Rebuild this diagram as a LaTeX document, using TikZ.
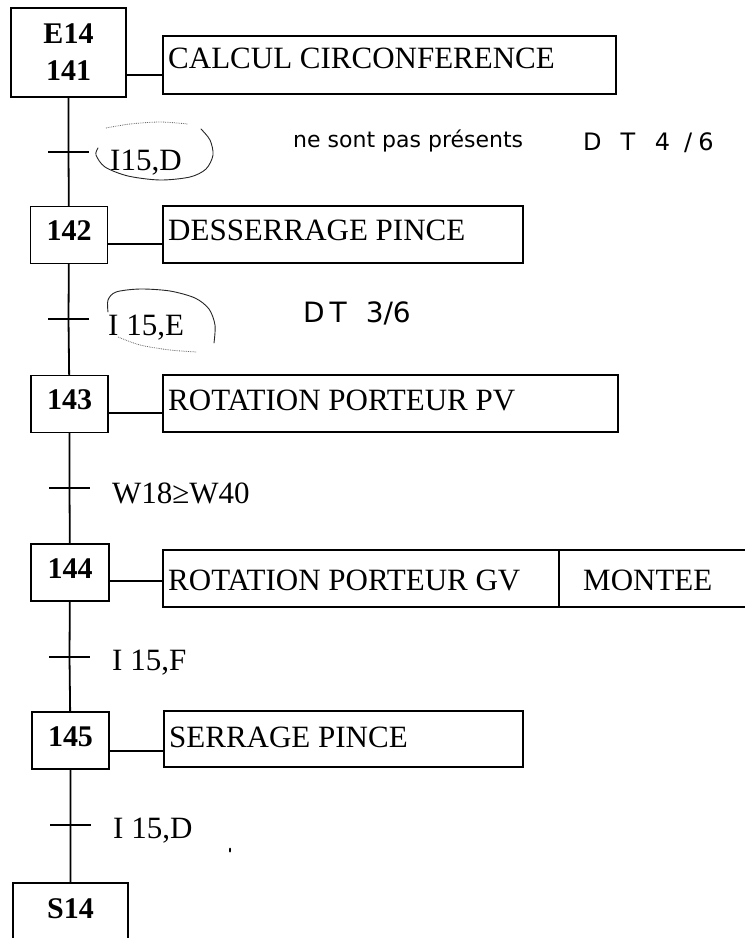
\documentclass[tikz,border=0pt]{standalone}
\usepackage{fontspec}
\setmainfont{Liberation Serif}
\newfontfamily\handfont{DejaVu Sans}
\usetikzlibrary{calc}
\begin{document}
\begin{tikzpicture}[x=1pt,y=-1pt,
  link/.style={line width=1.8pt},
  stepbox/.style={draw, line width=1.8pt, inner sep=0pt, outer sep=0pt,
    font=\bfseries\fontsize{30}{37}\selectfont},
  stepone/.style={stepbox, minimum width=77pt, minimum height=57pt, text depth=8pt},
  steptwo/.style={stepbox, minimum width=115pt, minimum height=89pt, align=center},
  tick/.style={minimum width=41pt, minimum height=0pt, inner sep=0pt, outer sep=0pt},
  actbox/.style={draw, line width=1.8pt, inner sep=0pt, outer sep=0pt, anchor=north west},
  acttext/.style={font=\fontsize{31}{37}\selectfont, anchor=base west, inner sep=0pt},
  hand/.style={line width=0.9pt, black!85, line cap=round},
  handdot/.style={line width=0.8pt, black!60, densely dotted},
  handtext/.style={font=\handfont\fontsize{22}{26}\selectfont, anchor=base west, inner sep=0pt}
]
\useasboundingbox (0,0) rectangle (745,938);
\clip (0,0) rectangle (745,938);

% steps
\node[steptwo] (s141) at (68.5,52.5) {E14\\141};
\node[stepone] (s142) at (69,235) {142};
\node[stepone] (s143) at (69.5,404) {143};
\node[stepone, minimum width=78pt] (s144) at (70,572.5) {144};
\node[stepone] (s145) at (70.5,740.5) {145};
\node[steptwo] (s14) at (70.5,927.5) {S14\\\phantom{141}};

% transitions
\node[tick] (t1) at (68.5,152) {};
\node[tick] (t2) at (68.5,319) {};
\node[tick] (t3) at (69.5,488) {};
\node[tick] (t4) at (69.5,657) {};
\node[tick] (t5) at (70.5,825) {};
\foreach \t in {t1,t2,t3,t4,t5} \draw[link] (\t.west) -- (\t.east);

\draw[link] (s141) -- (t1) -- (s142) -- (t2) -- (s143) -- (t3) -- (s144) -- (t4) -- (s145) -- (t5) -- (s14);

% transition labels
\node[acttext] (l1) at (110,170) {I15,D};
\node[acttext] (l2) at (108,335) {I 15,E};
\node[acttext] (l3) at (112,503) {W18≥W40};
\node[acttext] (l4) at (112,670) {I 15,F};
\node[acttext] (l5) at (113,838) {I 15,D};

% action boxes
\node[actbox, minimum width=453pt, minimum height=58pt] (a1) at (163,36) {};
\node[actbox, minimum width=360pt, minimum height=57pt] (a2) at (163,206) {};
\node[actbox, minimum width=455pt, minimum height=57pt] (a3) at (163,375) {};
\node[actbox, minimum width=396pt, minimum height=57pt] (a4) at (163,550) {};
\node[actbox, minimum width=189pt, minimum height=57pt] (a4b) at (559,550) {};
\node[actbox, minimum width=359pt, minimum height=56pt] (a5) at (164,711) {};

\node[acttext] (a1t) at (168,68) {CALCUL CIRCONFERENCE};
\node[acttext] (a2t) at (168,240) {DESSERRAGE PINCE};
\node[acttext] (a3t) at (168,410) {ROTATION PORTEUR PV};
\node[acttext] (a4t) at (168,590) {ROTATION PORTEUR GV};
\node[acttext] (a4bt) at (583,590) {MONTEE};
\node[acttext] (a5t) at (169,747) {SERRAGE PINCE};

% step-to-action connectors
\coordinate (c1) at ($(s141.east)+(0,22.5)$);
\coordinate (c2) at ($(s142.east)+(0,9)$);
\coordinate (c3) at ($(s143.east)+(0,9)$);
\coordinate (c4) at ($(s144.east)+(0,8.5)$);
\coordinate (c5) at ($(s145.east)+(0,10.5)$);
\draw[link] (c1) -- (c1 -| a1.west);
\draw[link] (c2) -- (c2 -| a2.west);
\draw[link] (c3) -- (c3 -| a3.west);
\draw[link] (c4) -- (c4 -| a4.west);
\draw[link] (c5) -- (c5 -| a5.west);

% handwritten annotations
\draw[handdot] plot[smooth] coordinates {(106,128) (130,124) (160,122) (188,124)};
\draw[hand] plot[smooth] coordinates {(201,129) (210,140) (213,155) (206,169) (190,177) (160,180) (128,176) (105,167) (96,155) (98,148)};
\draw[hand] plot[smooth] coordinates {(108,312) (108,300) (116,292) (140,289) (170,291) (195,298) (209,309) (215,325) (214,343)};
\draw[handdot] plot[smooth] coordinates {(118,337) (140,345) (170,350) (197,352)};

\node[handtext] (n1) at (293,147) {ne sont pas présents};
\node[handtext, font=\handfont\fontsize{24}{28}\selectfont] (n2) at (583,150) {D\hspace{19pt}T\hspace{12pt} 4\hspace{14pt}/\hspace{6pt}6};
\node[handtext, font=\handfont\fontsize{28}{32}\selectfont] (n3) at (303,322) {D\hspace{5pt}T\hspace{10pt} 3/6};

\fill (230,850) ellipse (1pt and 2.5pt);
\end{tikzpicture}
\end{document}
